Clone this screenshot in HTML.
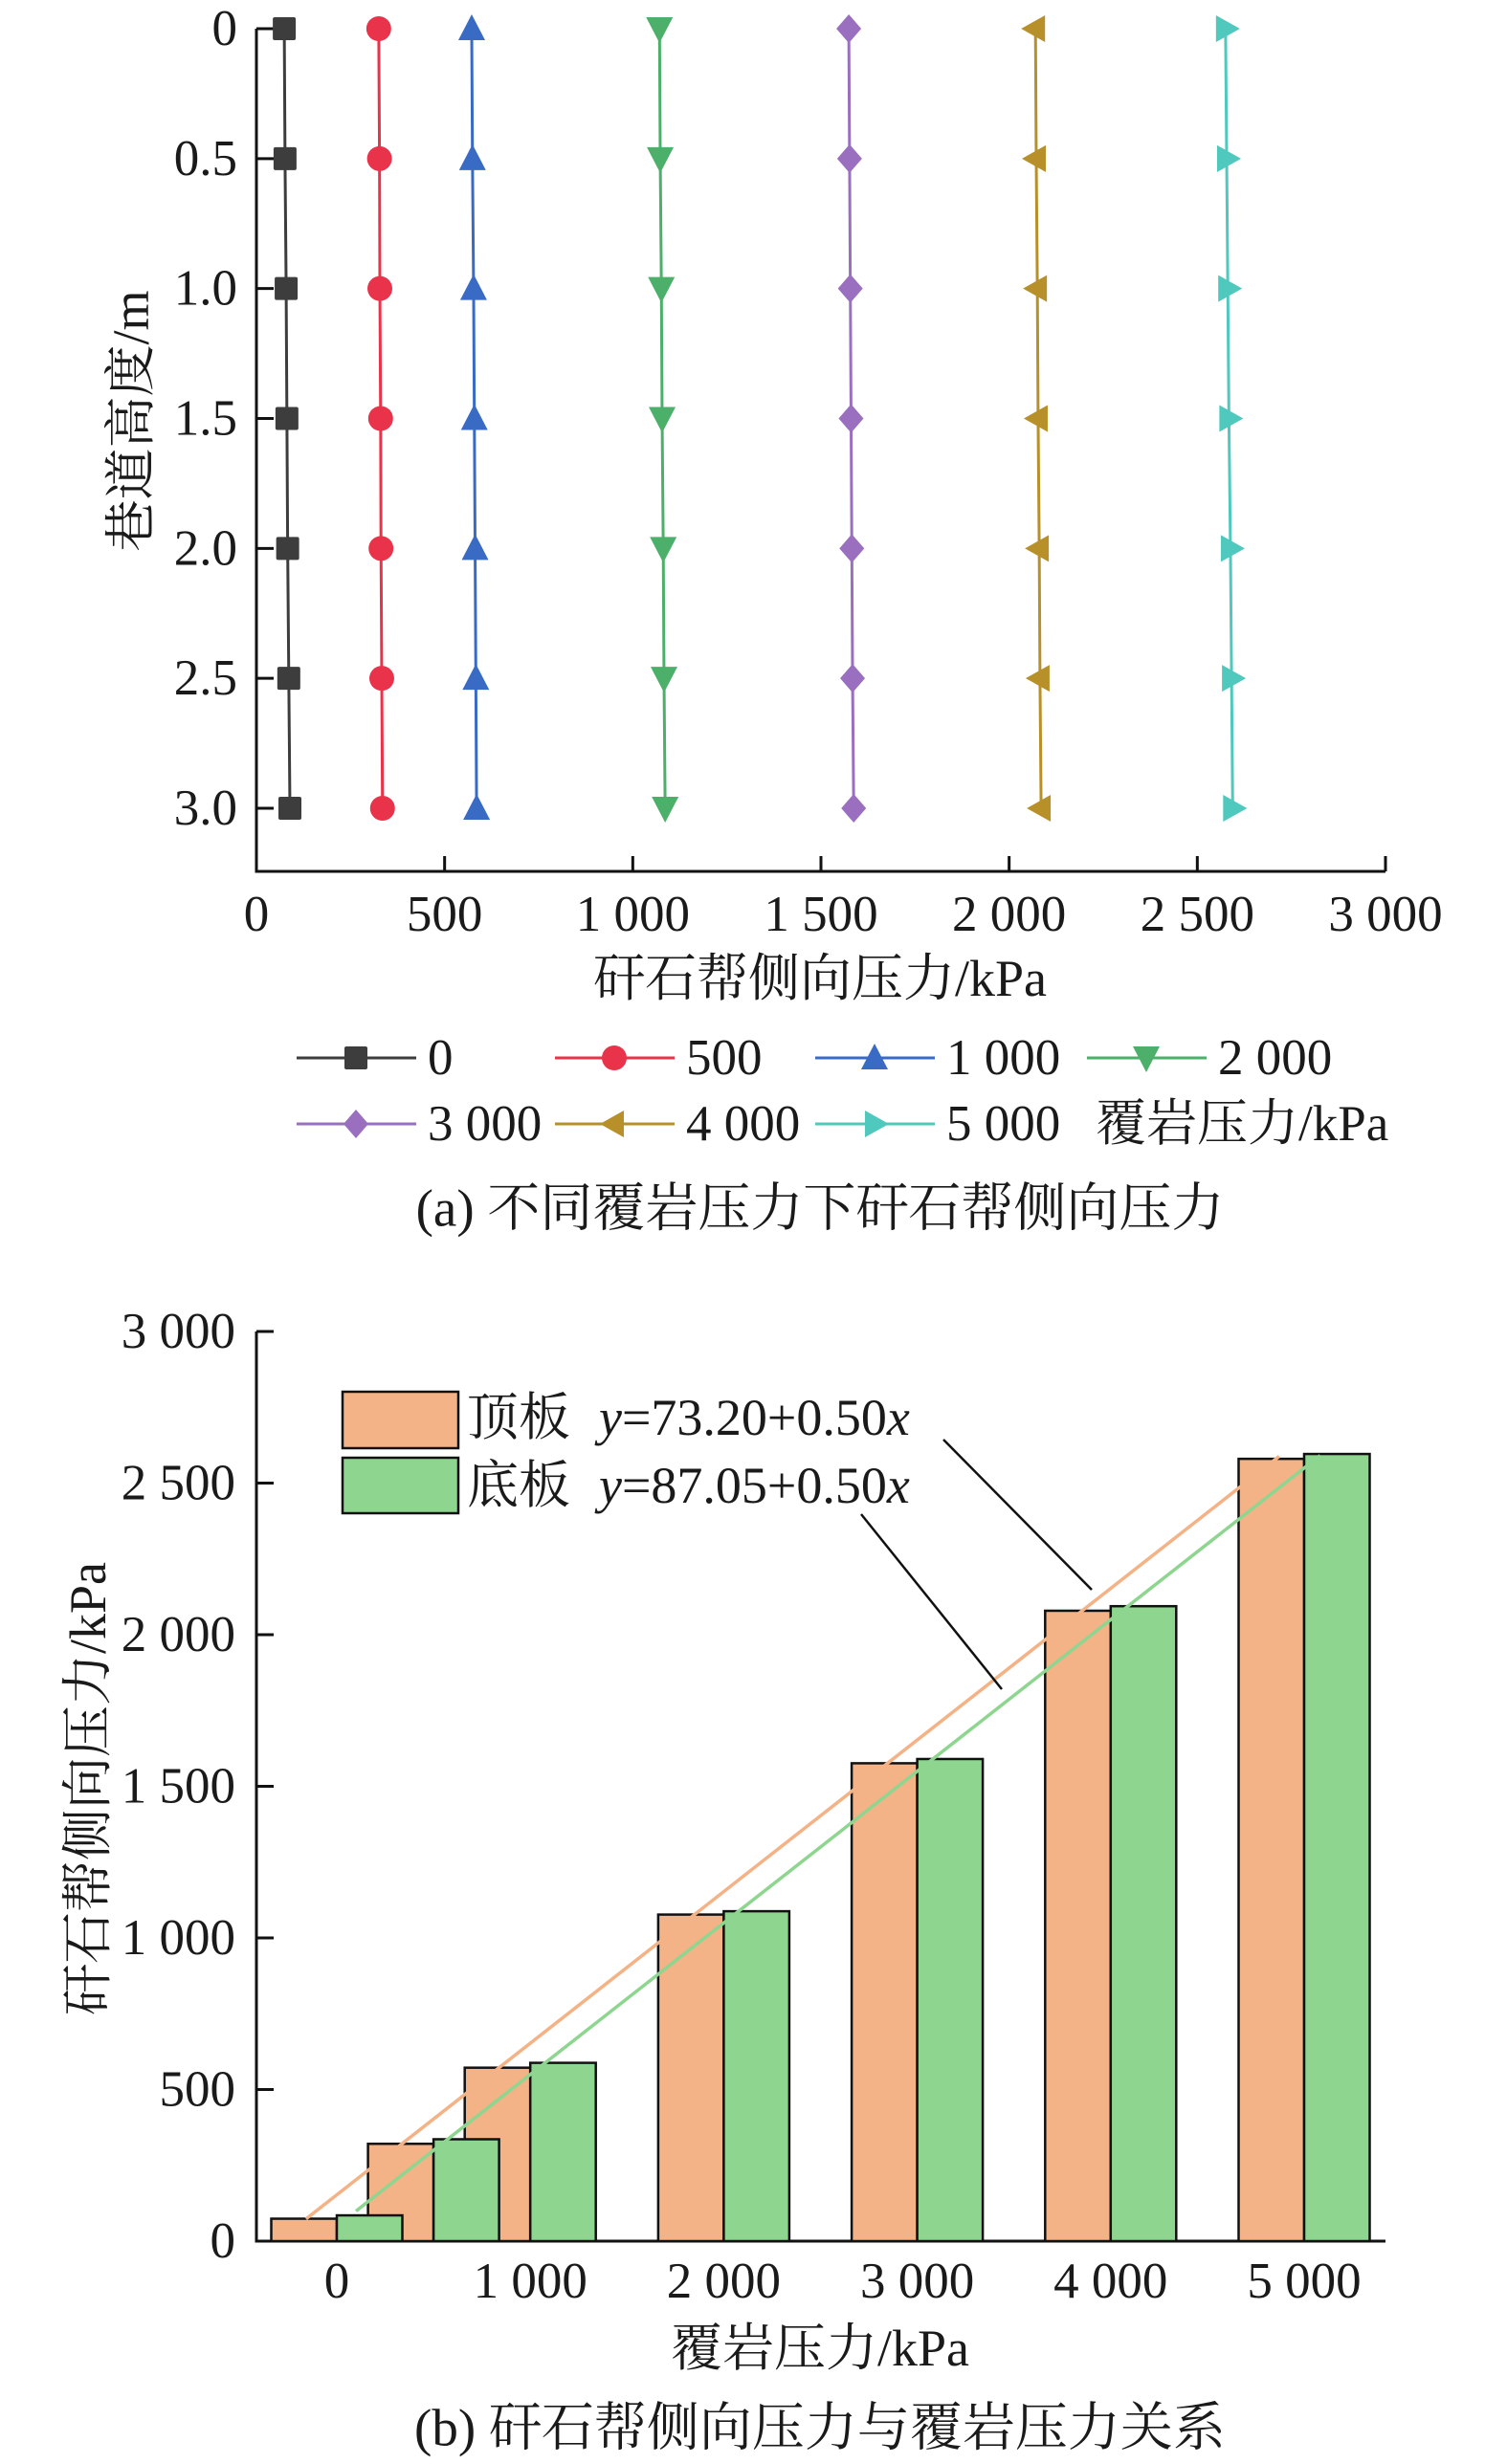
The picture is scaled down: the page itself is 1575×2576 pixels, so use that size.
<!DOCTYPE html>
<html><head><meta charset="utf-8"><style>
html,body{margin:0;padding:0;background:#fff}
svg{display:block}
text{font-family:"Liberation Serif","Noto Serif CJK SC",serif;fill:#1a1a1a}
</style></head><body>
<svg id="c" width="1575" height="2576" viewBox="0 0 1575 2576" xmlns="http://www.w3.org/2000/svg"></svg>
<script>
// ---------- Chart (a) data ----------
const heights = [0, 0.5, 1.0, 1.5, 2.0, 2.5, 3.0];
const heightTicks = ["0", "0.5", "1.0", "1.5", "2.0", "2.5", "3.0"];
const pressTicks = [0, 500, 1000, 1500, 2000, 2500, 3000];
const pressTickLabels = ["0", "500", "1 000", "1 500", "2 000", "2 500", "3 000"];
const seriesNames = ["0", "500", "1 000", "2 000", "3 000", "4 000", "5 000"];
const s0 = [74, 76, 79, 81, 83, 86, 89];
const s500 = [325, 327, 328, 330, 331, 333, 335];
const s1000 = [572, 574, 577, 579, 581, 583, 585];
const s2000 = [1071, 1073, 1076, 1078, 1081, 1083, 1086];
const s3000 = [1574, 1576, 1578, 1580, 1582, 1584, 1587];
const s4000 = [2070, 2072, 2075, 2077, 2080, 2082, 2085];
const s5000 = [2575, 2578, 2581, 2584, 2588, 2591, 2594];
// ---------- Chart (b) data ----------
const overburden = [0, 500, 1000, 2000, 3000, 4000, 5000];
const roofVals = [74, 321, 572, 1077, 1576, 2079, 2580];
const floorVals = [85, 336, 588, 1088, 1590, 2094, 2596];
const bTickVals = [0, 500, 1000, 1500, 2000, 2500, 3000];
const bTickLabels = ["0", "500", "1 000", "1 500", "2 000", "2 500", "3 000"];
const bxTickVals = [0, 1000, 2000, 3000, 4000, 5000];
const bxTickLabels = ["0", "1 000", "2 000", "3 000", "4 000", "5 000"];
const roofFit = [73.20, 0.50];
const floorFit = [87.05, 0.50];

const NS = "http://www.w3.org/2000/svg";
const svg = document.getElementById('c');
function mk(tag, attrs, parent) {
  const e = document.createElementNS(NS, tag);
  for (const k in attrs) e.setAttribute(k, attrs[k]);
  (parent || svg).appendChild(e);
  return e;
}
function txt(s, x, y, size, anchor, parent) {
  const t = mk('text', {x: x, y: y, 'font-size': size, 'text-anchor': anchor || 'middle', 'dominant-baseline': 'central'}, parent);
  t.textContent = s;
  return t;
}

// ===== Chart (a) =====
const ga = mk('g', {});


const axL = 268, axR = 1448, axB = 911;
const xa = v => axL + v * (axR - axL) / 3000;
const ya = h => 30 + h * (845 - 30) / 3.0;
const axA = mk('path', {d: `M${axL},${ya(0)} L${axL},${axB} L${axR},${axB}`, fill: 'none', stroke: '#111', 'stroke-width': 3}, ga);


heights.forEach((h, i) => {
  mk('line', {x1: axL, x2: axL + 18, y1: ya(h), y2: ya(h), stroke: '#111', 'stroke-width': 3}, ga);
  const t = txt(heightTicks[i], 248, ya(h), 53, 'end', ga);
  
  
});
pressTicks.forEach((v, i) => {
  if (i > 0) mk('line', {x1: xa(v), x2: xa(v), y1: axB, y2: axB - 16, stroke: '#111', 'stroke-width': 3}, ga);
  const t = txt(pressTickLabels[i], xa(v), 956, 53, 'middle', ga);
  
  
});
const xta = txt('矸石帮侧向压力/kPa', 857, 1023, 54, 'middle', ga);


const yta = txt('巷道高度/m', 0, 0, 54, 'middle', ga);
yta.setAttribute('transform', 'translate(137,440) rotate(-90)');



const colors = ['#3d3d3d', '#e8334a', '#3a6bc4', '#4caf6a', '#9a6fc0', '#b8902a', '#4fc8bd'];
const shapes = ['square', 'circle', 'up', 'down', 'diamond', 'left', 'right'];
const allSeries = [s0, s500, s1000, s2000, s3000, s4000, s5000];
function marker(shape, x, y, c, parent) {
  const s = 14;
  if (shape === 'square') return mk('rect', {x: x - 12, y: y - 12, width: 24, height: 24, rx: 2, fill: c}, parent);
  if (shape === 'circle') return mk('circle', {cx: x, cy: y, r: 13, fill: c}, parent);
  let p;
  if (shape === 'up') p = [[x, y - s - 1], [x - s, y + s - 2], [x + s, y + s - 2]];
  if (shape === 'down') p = [[x, y + s + 1], [x - s, y - s + 2], [x + s, y - s + 2]];
  if (shape === 'left') p = [[x - s - 1, y], [x + s - 4, y - s], [x + s - 4, y + s]];
  if (shape === 'right') p = [[x + s + 1, y], [x - s + 4, y - s], [x - s + 4, y + s]];
  if (shape === 'diamond') p = [[x, y - s - 1], [x + s - 1, y], [x, y + s + 1], [x - s + 1, y]];
  return mk('polygon', {points: p.map(q => q.join(',')).join(' '), fill: c}, parent);
}
allSeries.forEach((ser, si) => {
  const g = mk('g', {}, ga);
  
  
  mk('polyline', {points: ser.map((v, i) => xa(v) + ',' + ya(heights[i])).join(' '), fill: 'none', stroke: colors[si], 'stroke-width': 3}, g);
  ser.forEach((v, i) => {
    const m = marker(shapes[si], xa(v), ya(heights[i]), colors[si], g);
    
    
  });
});
// legend (a)
const lg = mk('g', {}, ga);


const legPos = [[310, 1106], [580, 1106], [852, 1106], [1136, 1106], [310, 1175], [580, 1175], [852, 1175]];
seriesNames.forEach((n, i) => {
  const [lx, ly] = legPos[i];
  const e = mk('g', {}, lg);
  
  
  mk('line', {x1: lx, x2: lx + 125, y1: ly, y2: ly, stroke: colors[i], 'stroke-width': 3}, e);
  marker(shapes[i], lx + 62, ly, colors[i], e);
  txt(n, lx + 137, ly, 53, 'start', e);
});
const lgt = txt('覆岩压力/kPa', 1145, 1175, 53, 'start', lg);


const capA = txt('(a) 不同覆岩压力下矸石帮侧向压力', 857, 1263, 55, 'middle', ga);



// ===== Chart (b) =====
const gb = mk('g', {});


const bB = 2343, bT = 1392;
const yb = v => bB - v * (bB - bT) / 3000;
const xb = p => 352 + p * 0.2022;
const bw = 68.5;
const axB2 = mk('path', {d: `M${axL},${bT} L${axL},${bB} L${axR},${bB}`, fill: 'none', stroke: '#111', 'stroke-width': 3}, gb);


bTickVals.forEach((v, i) => {
  mk('line', {x1: axL, x2: axL + 18, y1: yb(v), y2: yb(v), stroke: '#111', 'stroke-width': 3}, gb);
  const t = txt(bTickLabels[i], 246, yb(v), 53, 'end', gb);
  
  
});
bxTickVals.forEach((v, i) => {
  const t = txt(bxTickLabels[i], xb(v), 2385, 53, 'middle', gb);
  
  
});
roofVals.forEach((v, i) => {
  const r = mk('rect', {x: xb(overburden[i]) - bw, y: yb(v), width: bw, height: bB - yb(v), fill: '#f4b287', stroke: '#111', 'stroke-width': 2.5}, gb);
  
  
});
floorVals.forEach((v, i) => {
  const r = mk('rect', {x: xb(overburden[i]), y: yb(v), width: bw, height: bB - yb(v), fill: '#8ed690', stroke: '#111', 'stroke-width': 2.5}, gb);
  
  
});
function fitLine(fit, shift, p0, p1, col, name) {
  const f = p => fit[0] + fit[1] * (p - shift);
  const l = mk('line', {x1: xb(p0), y1: yb(f(p0)), x2: xb(p1), y2: yb(f(p1)), stroke: col, 'stroke-width': 3.5}, gb);
  
  
}
fitLine(roofFit, -159, -159, 4871, '#f4b287', 'fit-line-roof');
fitLine(floorFit, 75, 99, 5083, '#8ed690', 'fit-line-floor');
const ld1 = mk('line', {x1: 986, y1: 1505, x2: 1141, y2: 1662, stroke: '#111', 'stroke-width': 2.5}, gb);


const ld2 = mk('line', {x1: 900, y1: 1583, x2: 1047, y2: 1766, stroke: '#111', 'stroke-width': 2.5}, gb);


// legend (b)
const lb = mk('g', {}, gb);


const e1 = mk('g', {}, lb);


mk('rect', {x: 358, y: 1455, width: 121, height: 59, fill: '#f4b287', stroke: '#111', 'stroke-width': 2.5}, e1);
const t1 = mk('text', {x: 488, y: 1482, 'font-size': 54, 'dominant-baseline': 'central'}, e1);
t1.innerHTML = '顶板<tspan dx="30" font-style="italic">y</tspan>=73.20+0.50<tspan font-style="italic">x</tspan>';
const e2 = mk('g', {}, lb);


mk('rect', {x: 358, y: 1524, width: 121, height: 58, fill: '#8ed690', stroke: '#111', 'stroke-width': 2.5}, e2);
const t2 = mk('text', {x: 488, y: 1553, 'font-size': 54, 'dominant-baseline': 'central'}, e2);
t2.innerHTML = '底板<tspan dx="30" font-style="italic">y</tspan>=87.05+0.50<tspan font-style="italic">x</tspan>';

const xtb = txt('覆岩压力/kPa', 857, 2455, 54, 'middle', gb);


const ytb = txt('矸石帮侧向压力/kPa', 0, 0, 54, 'middle', gb);
ytb.setAttribute('transform', 'translate(92,1870) rotate(-90)');


const capB = txt('(b) 矸石帮侧向压力与覆岩压力关系', 857, 2538, 55, 'middle', gb);


</script>
</body></html>
